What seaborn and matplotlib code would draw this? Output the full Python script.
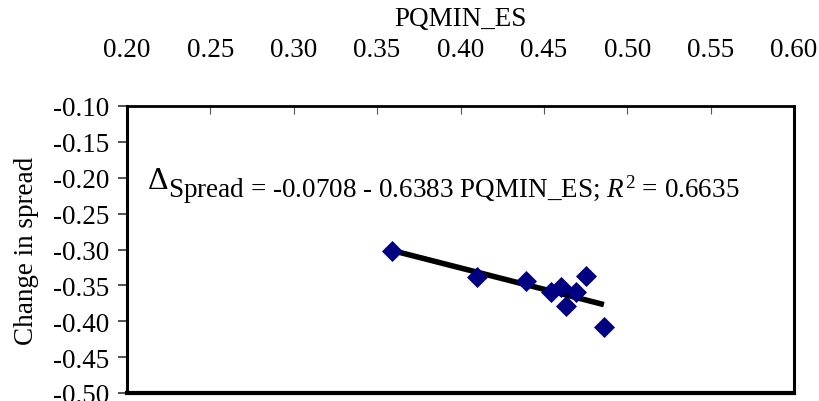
import matplotlib
matplotlib.use('Agg')
import matplotlib.pyplot as plt
import seaborn as sns
import pandas as pd

# values
pqmin_es = [0.359, 0.410, 0.439, 0.454, 0.460, 0.463, 0.469, 0.475, 0.486]
spread_change = [-0.302, -0.338, -0.344, -0.359, -0.352, -0.379, -0.359, -0.337, -0.408]
x_ticks = [0.20, 0.25, 0.30, 0.35, 0.40, 0.45, 0.50, 0.55, 0.60]
y_ticks = [-0.10, -0.15, -0.20, -0.25, -0.30, -0.35, -0.40, -0.45, -0.50]

df = pd.DataFrame({'PQMIN_ES': pqmin_es, 'spread': spread_change})

sns.set_style('white')
plt.rcParams['font.family'] = ['Liberation Serif', 'DejaVu Serif']
plt.rcParams['mathtext.fontset'] = 'custom'
plt.rcParams['mathtext.rm'] = 'Liberation Serif'
plt.rcParams['mathtext.it'] = 'Liberation Serif:italic'
plt.rcParams['text.color'] = 'black'
plt.rcParams['axes.labelcolor'] = 'black'
plt.rcParams['xtick.labelcolor'] = 'black'
plt.rcParams['ytick.labelcolor'] = 'black'

fig = plt.figure(figsize=(8.2, 4.02), dpi=100)
ax = fig.add_axes([127 / 820, 8 / 402, 667 / 820, 287 / 402])

sns.regplot(data=df, x='PQMIN_ES', y='spread', ci=None, ax=ax,
            marker='D', color='#000080',
            scatter_kws={'s': 115, 'linewidths': 0, 'alpha': 1, 'zorder': 3},
            line_kws={'color': 'black', 'lw': 4, 'zorder': 2,
                      'solid_capstyle': 'butt'})

fs = 19.5
ax.set_xlim(0.2, 0.6)
ax.set_ylim(-0.5, -0.1)
ax.set_xticks(x_ticks)
ax.set_xticklabels([f'{v:.2f}' for v in x_ticks])
ax.set_yticks(y_ticks)
ax.set_yticklabels([f'{v:.2f}' for v in y_ticks])

ax.xaxis.tick_top()
ax.xaxis.set_label_position('top')
ax.tick_params(axis='x', direction='in', length=6, width=0.8, color='#555555',
               pad=32, labelsize=fs, top=True, bottom=False)
ax.tick_params(axis='y', direction='out', length=6.5, width=1.2, color='#333333',
               pad=6, labelsize=fs, left=True)
ax.set_xlabel('PQMIN_ES', fontsize=fs, labelpad=8)
ax.set_ylabel('Change in spread', fontsize=fs, labelpad=10)

for side, lw in [('left', 2.2), ('bottom', 3), ('right', 2.2), ('top', 2)]:
    ax.spines[side].set_visible(True)
    ax.spines[side].set_color('black')
    ax.spines[side].set_linewidth(lw)

ax.text(0.031, 0.714, '\u0394', transform=ax.transAxes, fontsize=23, va='baseline')
ax.text(0.0615, 0.686, 'Spread = -0.0708 - 0.6383 PQMIN_ES; $R^2$ = 0.6635',
        transform=ax.transAxes, fontsize=fs, va='baseline')

fig.savefig('out.png', dpi=100)
